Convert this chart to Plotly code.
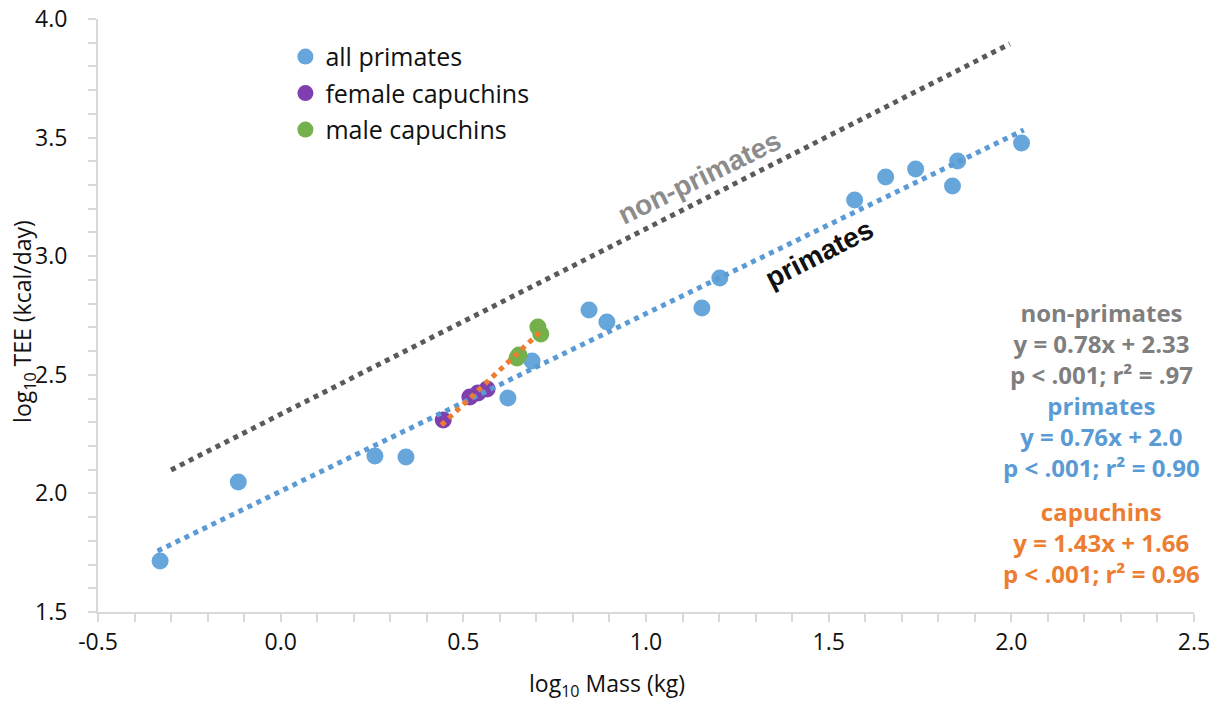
import plotly.graph_objects as go

# ---- data ----
primates_x = [-0.33, -0.116, 0.258, 0.343, 0.622, 0.688, 0.844, 0.893, 1.153, 1.202,
              1.571, 1.656, 1.738, 1.853, 1.839, 2.028]
primates_y = [1.715, 2.048, 2.158, 2.153, 2.402, 2.558, 2.773, 2.723, 2.782, 2.908,
              3.237, 3.334, 3.368, 3.401, 3.296, 3.477]

female_x = [0.445, 0.518, 0.540, 0.565]
female_y = [2.309, 2.406, 2.423, 2.440]

male_x = [0.647, 0.652, 0.704, 0.712]
male_y = [2.571, 2.583, 2.702, 2.672]

# trend line end points
nonprim_trend_x = [-0.30, 1.996]
nonprim_trend_y = [2.099, 3.895]
prim_trend_x = [-0.337, 2.034]
prim_trend_y = [1.757, 3.532]
capu_trend_x = [0.44, 0.716]
capu_trend_y = [2.288, 2.689]

x_ticks = [-0.5, 0.0, 0.5, 1.0, 1.5, 2.0, 2.5]
y_ticks = [1.5, 2.0, 2.5, 3.0, 3.5, 4.0]

# regression summary blocks: (lines, vertical centre, colour)
stats_blocks = [
    (["non-primates", "y = 0.78x + 2.33", "p < .001; r² = .97"], 2.630, "#7F7F7F"),
    (["primates", "y = 0.76x + 2.0", "p < .001; r² = 0.90"], 2.242, "#5B9BD5"),
    (["capuchins", "y = 1.43x + 1.66", "p < .001; r² = 0.96"], 1.795, "#ED7D31"),
]
stats_x = 2.247

FONT = "Open Sans"
BLUE = "#66A6DA"
PURPLE = "#7F3FAF"
GREEN = "#74B04C"

fig = go.Figure()

fig.add_trace(go.Scatter(x=primates_x, y=primates_y, mode="markers", name="all primates",
                         legendgroup="a",
                         marker=dict(size=17, color=BLUE)))
fig.add_trace(go.Scatter(x=female_x, y=female_y, mode="markers", name="female capuchins",
                         legendgroup="b",
                         marker=dict(size=17, color=PURPLE)))
fig.add_trace(go.Scatter(x=male_x, y=male_y, mode="markers", name="male capuchins",
                         legendgroup="c",
                         marker=dict(size=17, color=GREEN)))

fig.add_trace(go.Scatter(x=nonprim_trend_x, y=nonprim_trend_y, mode="lines", showlegend=False,
                         line=dict(color="#5A5A5A", width=5, dash="5px,5px")))
fig.add_trace(go.Scatter(x=prim_trend_x, y=prim_trend_y, mode="lines", showlegend=False,
                         line=dict(color="#5B9BD5", width=5, dash="5px,5px")))
fig.add_trace(go.Scatter(x=capu_trend_x, y=capu_trend_y, mode="lines", showlegend=False,
                         line=dict(color="#ED7D31", width=5, dash="5px,5px")))

axis_common = dict(
    showgrid=False, zeroline=False, showline=True, linecolor="#D9D9D9", linewidth=2,
    ticks="outside", ticklen=8, tickcolor="#D9D9D9", tickwidth=2, automargin=False,
    tickfont=dict(family=FONT, size=23, color="#111111"),
    minor=dict(ticks="outside", ticklen=8, tickcolor="#D9D9D9", tickwidth=2, dtick=0.1),
)

fig.update_xaxes(range=[-0.5, 2.5], tickvals=x_ticks,
                 ticktext=[f"{v:.1f}" for v in x_ticks], **axis_common)
fig.update_yaxes(range=[1.5, 4.0], tickvals=y_ticks,
                 ticktext=[f"{v:.1f}" for v in y_ticks], ticklabelstandoff=16, **axis_common)

annotations = [
    dict(text="log<sub>10</sub> Mass (kg)", xref="paper", yref="paper", x=0.464, y=-0.123,
         xanchor="center", yanchor="middle", showarrow=False,
         font=dict(family=FONT, size=23, color="#111111")),
    dict(text="log<sub>10</sub> TEE (kcal/day)", xref="paper", yref="paper", x=-0.068, y=0.49,
         xanchor="center", yanchor="middle", showarrow=False, textangle=-90,
         font=dict(family=FONT, size=23, color="#111111")),
    dict(text="<b>non-primates</b>", x=1.147, y=3.33, showarrow=False, textangle=-26,
         font=dict(family="Liberation Sans", size=28, color="#8C8C8C")),
    dict(text="<b>primates</b>", x=1.476, y=3.01, showarrow=False, textangle=-27,
         font=dict(family="Liberation Sans", size=28, color="#111111")),
]
for lines, yv, col in stats_blocks:
    annotations.append(dict(text="<b>" + "<br>".join(lines) + "</b>", x=stats_x, y=yv,
                            showarrow=False, align="center",
                            xanchor="center", yanchor="middle",
                            font=dict(family=FONT, size=24, color=col)))

fig.update_layout(
    width=1222, height=706,
    margin=dict(l=98, r=28, t=19, b=94),
    plot_bgcolor="white", paper_bgcolor="white",
    showlegend=True,
    legend=dict(x=0.171, y=0.975, xanchor="left", yanchor="top", tracegroupgap=1,
                bgcolor="rgba(0,0,0,0)",
                font=dict(family=FONT, size=25, color="#111111")),
    annotations=annotations,
)

fig.write_html("out.html")
